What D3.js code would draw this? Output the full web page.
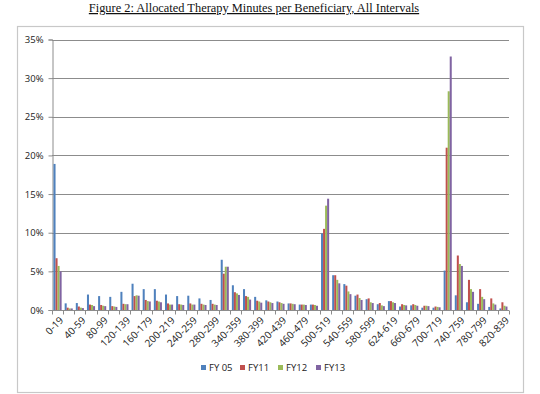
<!DOCTYPE html>
<html>
<head>
<meta charset="utf-8">
<script src="https://cdnjs.cloudflare.com/ajax/libs/d3/7.8.5/d3.min.js"></script>
<style>
    body { margin: 0; background: #fff; }
</style>
</head>
<body>
<div id="chart"></div>
<script>
// intervals (minutes), every other one gets a label
const categories = ["0-19","20-39","40-59","60-79","80-99","100-119","120-139","140-159","160-179","180-199",
    "200-219","220-239","240-259","260-279","280-299","300-339","340-359","360-379","380-399","400-419",
    "420-439","440-459","460-479","480-499","500-519","520-539","540-559","560-579","580-599","600-619",
    "624-619","640-659","660-679","680-699","700-719","720-739","740-759","760-779","780-799","800-819","820-839"];

const seriesNames = ["FY 05", "FY11", "FY12", "FY13"];

// percent of beneficiaries
const fy05 = [18.9,0.86,0.9,2.0,1.8,1.7,2.35,3.4,2.7,2.7,2.0,1.8,1.85,1.5,1.3,6.5,3.2,2.7,1.7,1.25,1.1,
    0.85,0.7,0.7,9.9,4.5,3.35,1.85,1.4,0.75,1.15,0.45,0.6,0.3,0.3,5.1,1.9,1.0,0.8,0.4,0.2];
const fy11 = [6.7,0.3,0.45,0.7,0.65,0.5,0.8,1.8,1.3,1.2,0.85,0.75,0.85,0.8,0.8,4.7,2.3,1.8,1.2,1.1,1.0,
    0.85,0.7,0.7,10.5,4.5,3.15,2.0,1.5,0.9,1.15,0.75,0.75,0.55,0.45,21.0,7.05,3.9,2.7,1.5,1.0];
const fy12 = [5.7,0.2,0.3,0.65,0.55,0.45,0.75,1.9,1.15,1.1,0.7,0.7,0.7,0.7,0.7,5.6,2.15,1.7,1.1,1.0,0.9,
    0.8,0.7,0.65,13.5,3.9,2.4,1.55,1.0,0.6,1.0,0.65,0.65,0.55,0.4,28.3,5.95,2.7,1.7,0.85,0.55];
const fy13 = [5.0,0.2,0.25,0.5,0.5,0.4,0.75,1.85,1.1,1.0,0.7,0.65,0.7,0.65,0.65,5.6,1.95,1.35,0.95,0.9,0.8,
    0.75,0.65,0.55,14.4,3.45,2.05,1.3,0.9,0.5,0.9,0.6,0.55,0.5,0.35,32.8,5.7,2.35,1.4,0.7,0.45];

const yTicks = [0, 5, 10, 15, 20, 25, 30, 35];
const colors = ["#4F81BD", "#C0504D", "#9BBB59", "#8064A2"];

const series = [fy05, fy11, fy12, fy13];
const rows = categories.map((c, i) => ({ cat: c, values: series.map(s => s[i]) }));

const width = 540, height = 394;
const plot = { left: 52, right: 509, top: 39.5, bottom: 310 };
const labelFont = "'Open Sans', 'Noto Sans', sans-serif";

const svg = d3.select("#chart").append("svg")
    .attr("width", width)
    .attr("height", height);

// title, underlined
svg.append("text")
    .attr("x", 254)
    .attr("y", 12)
    .attr("text-anchor", "middle")
    .attr("font-family", "'Liberation Serif', 'Times New Roman', serif")
    .attr("font-size", 12.4)
    .attr("text-decoration", "underline")
    .attr("fill", "#111")
    .text("Figure 2: Allocated Therapy Minutes per Beneficiary, All Intervals");

// chart frame
svg.append("rect")
    .attr("x", 17.5)
    .attr("y", 26.5)
    .attr("width", 506)
    .attr("height", 366)
    .attr("fill", "none")
    .attr("stroke", "#c8c8c8")
    .attr("stroke-width", 1.2);

const x = d3.scaleBand()
    .domain(categories)
    .range([plot.left, plot.right])
    .padding(0);

const x1 = d3.scaleBand()
    .domain(d3.range(seriesNames.length))
    .range([0, x.bandwidth()])
    .paddingInner(0)
    .paddingOuter(0.75);

const y = d3.scaleLinear()
    .domain([0, 35])
    .range([plot.bottom, plot.top]);

// gridlines
svg.append("g")
    .selectAll("line")
    .data(yTicks.filter(d => d > 0))
    .enter().append("line")
    .attr("x1", plot.left)
    .attr("x2", plot.right)
    .attr("y1", d => Math.round(y(d)) + 0.5)
    .attr("y2", d => Math.round(y(d)) + 0.5)
    .attr("stroke", "#8c8c8c")
    .attr("stroke-width", 1);

// y axis
const yAxis = svg.append("g")
    .attr("transform", `translate(${plot.left + 0.5},0)`)
    .call(d3.axisLeft(y).tickValues(yTicks).tickSize(4).tickPadding(5).tickFormat(d => d + "%"));
yAxis.select(".domain").attr("stroke", "#8c8c8c");
yAxis.selectAll(".tick line").attr("stroke", "#8c8c8c");
yAxis.selectAll("text")
    .attr("font-family", labelFont)
    .attr("font-size", 9.5)
    .attr("fill", "#222");

// bars
const groups = svg.append("g")
    .selectAll("g")
    .data(rows)
    .enter().append("g")
    .attr("transform", d => `translate(${x(d.cat)},0)`);

groups.selectAll("rect")
    .data(d => d.values)
    .enter().append("rect")
    .attr("x", (d, i) => x1(i))
    .attr("y", d => y(d))
    .attr("width", x1.bandwidth())
    .attr("height", d => y(0) - y(d))
    .attr("fill", (d, i) => colors[i]);

// x axis, ticks at category edges
const xAxis = svg.append("g")
    .attr("transform", `translate(0,${plot.bottom + 0.5})`);
xAxis.append("line")
    .attr("x1", plot.left)
    .attr("x2", plot.right)
    .attr("stroke", "#8c8c8c");
xAxis.selectAll("line.tick")
    .data(categories.concat([null]))
    .enter().append("line")
    .attr("class", "tick")
    .attr("x1", (d, i) => Math.round(plot.left + i * x.step()) + 0.5)
    .attr("x2", (d, i) => Math.round(plot.left + i * x.step()) + 0.5)
    .attr("y1", 0)
    .attr("y2", 4)
    .attr("stroke", "#8c8c8c");

xAxis.selectAll("text")
    .data(categories.filter((d, i) => i % 2 === 0))
    .enter().append("text")
    .attr("transform", d => `translate(${x(d) + x.bandwidth() / 2 + 4},${8}) rotate(-45)`)
    .attr("text-anchor", "end")
    .attr("dy", "0.35em")
    .attr("font-family", labelFont)
    .attr("font-size", 10)
    .attr("fill", "#222")
    .text(d => d);

// legend
const legendX = [201, 240, 278, 316];
const legend = svg.append("g")
    .selectAll("g")
    .data(seriesNames)
    .enter().append("g")
    .attr("transform", (d, i) => `translate(${legendX[i]},368)`);
legend.append("rect")
    .attr("x", 0)
    .attr("y", -3)
    .attr("width", 5)
    .attr("height", 5)
    .attr("fill", (d, i) => colors[i]);
legend.append("text")
    .attr("x", 8)
    .attr("y", 0)
    .attr("dy", "0.35em")
    .attr("font-family", labelFont)
    .attr("font-size", 9.5)
    .attr("fill", "#222")
    .text(d => d);
</script>
</body>
</html>
